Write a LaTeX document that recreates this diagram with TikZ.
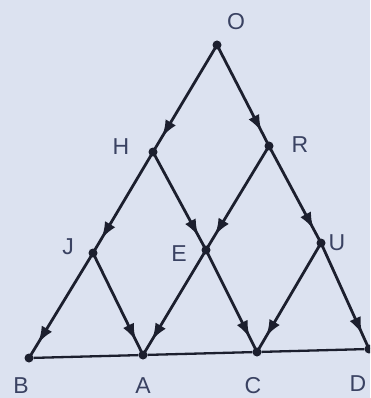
\documentclass[tikz,border=0pt]{standalone}
\usepackage{fontspec}
\setmainfont{Liberation Sans}
\usetikzlibrary{arrows.meta,decorations.markings}
\definecolor{bgc}{HTML}{DCE2F0}
\definecolor{ink}{HTML}{1C1F2E}
\definecolor{lab}{HTML}{3A4262}
\tikzset{
  pt/.style={circle,fill=ink,inner sep=0pt,minimum size=9pt},
  lbl/.style={text=lab,font=\fontsize{23}{26}\selectfont,inner sep=0pt},
  edge/.style={draw=ink,line width=2.8pt,postaction={decorate},
    decoration={markings,mark=at position 0.86 with {\arrow{Latex[length=17pt,width=12pt]}}}},
  base/.style={draw=ink,line width=2.3pt}
}
\begin{document}
\begin{tikzpicture}[x=1pt,y=-1pt]
\clip (0,0) rectangle (370,398);
\fill[bgc] (0,0) rectangle (370,398);
\node[pt] (O) at (217,45) {};
\node[pt] (H) at (153,152) {};
\node[pt] (R) at (269,146) {};
\node[pt] (J) at (93,253) {};
\node[pt] (E) at (206,250) {};
\node[pt] (U) at (321,243) {};
\node[pt] (B) at (29,358) {};
\node[pt] (A) at (143,355) {};
\node[pt] (C) at (257,352) {};
\node[pt] (D) at (369,349) {};
\draw[base] (B) -- (A) -- (C) -- (D);
\foreach \s/\t in {O/H,O/R,H/J,H/E,R/E,R/U,J/B,J/A,E/A,E/C,U/C,U/D}
  \path[edge] (\s.center) -- (\t.center);
\node[lbl] (lO) at (236,22) {O};
\node[lbl] (lH) at (121,147) {H};
\node[lbl] (lR) at (300,145) {R};
\node[lbl] (lJ) at (68,247) {J};
\node[lbl] (lE) at (179,254) {E};
\node[lbl] (lU) at (337,243) {U};
\node[lbl] (lB) at (21,386) {B};
\node[lbl] (lA) at (143,386) {A};
\node[lbl] (lC) at (253,386) {C};
\node[lbl] (lD) at (358,384) {D};
\end{tikzpicture}
\end{document}
